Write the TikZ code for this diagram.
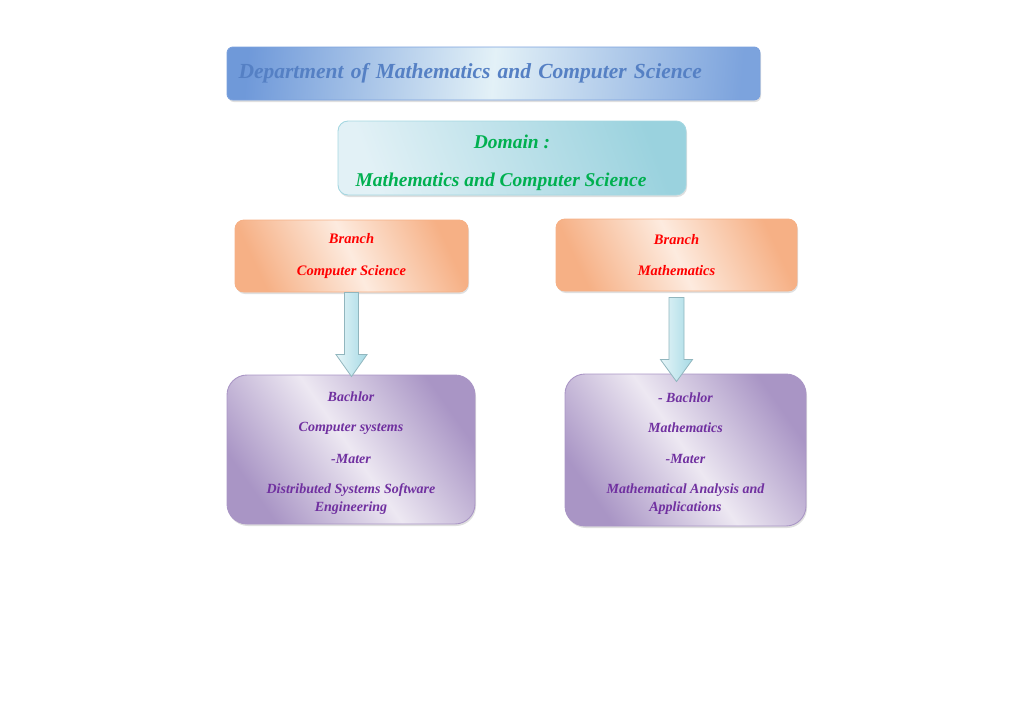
\documentclass[tikz,border=0pt]{standalone}
\usepackage{fontspec}
\setmainfont{Liberation Serif}
\usetikzlibrary{ % tikz packages
    positioning,calc,shadows
}
\definecolor{titleDark}{HTML}{5A89D4}
\definecolor{titleLight}{HTML}{E3F1F7}
\definecolor{titleText}{HTML}{5580C4}
\definecolor{domainDark}{HTML}{9AD2DE}
\definecolor{domainLight}{HTML}{E2F1F6}
\definecolor{domainText}{HTML}{00B050}
\definecolor{branchDark}{HTML}{F6B085}
\definecolor{branchLight}{HTML}{FDEBDF}
\definecolor{degreeDark}{HTML}{A995C5}
\definecolor{degreeLight}{HTML}{EDE8F2}
\definecolor{degreeText}{HTML}{7030A0}
\definecolor{arrowDark}{HTML}{A6DAE5}
\definecolor{arrowLight}{HTML}{E6F5F8}
\tikzset{every box/.style={
    rounded corners=8pt,
    line width=0.9pt,
    align=center,
    inner sep=0pt,
    font=\bfseries\itshape,
    drop shadow={opacity=0.25,shadow xshift=1pt,shadow yshift=-2pt}
}}
\tikzset{
    titlebox/.style={every box,rounded corners=6pt,draw=titleDark!80,
        left color=titleDark!85!titleLight,right color=titleDark!75!titleLight,
        middle color=titleLight,shading angle=85,
        text=titleText,font=\fontsize{21.5}{25}\bfseries\itshape},
    domainbox/.style={every box,rounded corners=10pt,draw=domainDark!90,
        left color=domainLight,right color=domainDark,shading angle=110,
        text=domainText,font=\fontsize{19.5}{23}\bfseries\itshape},
    branchbox/.style={every box,rounded corners=9pt,draw=branchDark,
        left color=branchDark,right color=branchDark,middle color=branchLight,
        shading angle=115,text=red,font=\fontsize{14.5}{17.5}\bfseries\itshape},
    degreebox/.style={every box,rounded corners=20pt,draw=degreeDark,
        left color=degreeDark,right color=degreeDark,middle color=degreeLight,
        shading angle=125,text=degreeText,font=\fontsize{14}{17}\bfseries\itshape},
    fatarrow/.style={draw=arrowDark!80!black!90,line width=0.8pt,
        left color=arrowLight,right color=arrowDark}
}

\begin{document}
\begin{tikzpicture}[x=1pt,y=-1pt]
    \useasboundingbox (0,0) rectangle (1024,716);

    \node[titlebox,text width=510pt,minimum height=53pt,align=left,
        inner xsep=11.5pt] (dept) at (493.5,73.5)
        {Department of Mathematics and Computer Science};

    \node[domainbox,minimum width=348pt,minimum height=74pt] (dom) at (512,158)
        {\rule{0pt}{24pt}Domain :\\[15pt]\hspace*{-22pt}Mathematics and Computer Science};

    \node[branchbox,minimum width=233pt,minimum height=72pt] (cs) at (351.5,256)
        {Branch\\[14.5pt]Computer Science};
    \node[branchbox,minimum width=241pt,minimum height=72pt] (math) at (676.5,255)
        {Branch\\[13.5pt]Mathematics};

    \node[degreebox,minimum width=248pt,minimum height=149pt] (degcs) at (351,449.5)
        {\rule{0pt}{16pt}Bachlor\\[13pt]Computer systems\\[15pt]-Mater\\[13pt]
         Distributed Systems Software\\[1pt]Engineering};
    \node[degreebox,minimum width=241pt,minimum height=152pt] (degmath) at (685.5,450)
        {\rule{0pt}{16pt}- Bachlor\\[13pt]Mathematics\\[14pt]-Mater\\[13pt]
         Mathematical Analysis and\\[1pt]Applications};

    % block arrows between branch and degrees
    \coordinate (csFrom) at (cs.south);
    \coordinate (csTip) at ($(cs.south |- degcs.north)+(0,2)$);
    \coordinate (mathFrom) at ($(math.south)+(0,6)$);
    \coordinate (mathTip) at ($(math.south |- degmath.north)+(0,8)$);
    \path[fatarrow] let \p1=(csFrom), \p2=(csTip) in
        (\x1-7pt,\y1) -- (\x1+7pt,\y1) -- (\x1+7pt,\y2+22pt)
        -- (\x1+15.5pt,\y2+22pt) -- (\x2,\y2) -- (\x1-15.5pt,\y2+22pt)
        -- (\x1-7pt,\y2+22pt) -- cycle;
    \path[fatarrow] let \p1=(mathFrom), \p2=(mathTip) in
        (\x1-7.5pt,\y1) -- (\x1+7.5pt,\y1) -- (\x1+7.5pt,\y2+22pt)
        -- (\x1+16pt,\y2+22pt) -- (\x2,\y2) -- (\x1-16pt,\y2+22pt)
        -- (\x1-7.5pt,\y2+22pt) -- cycle;
\end{tikzpicture}
\end{document}
